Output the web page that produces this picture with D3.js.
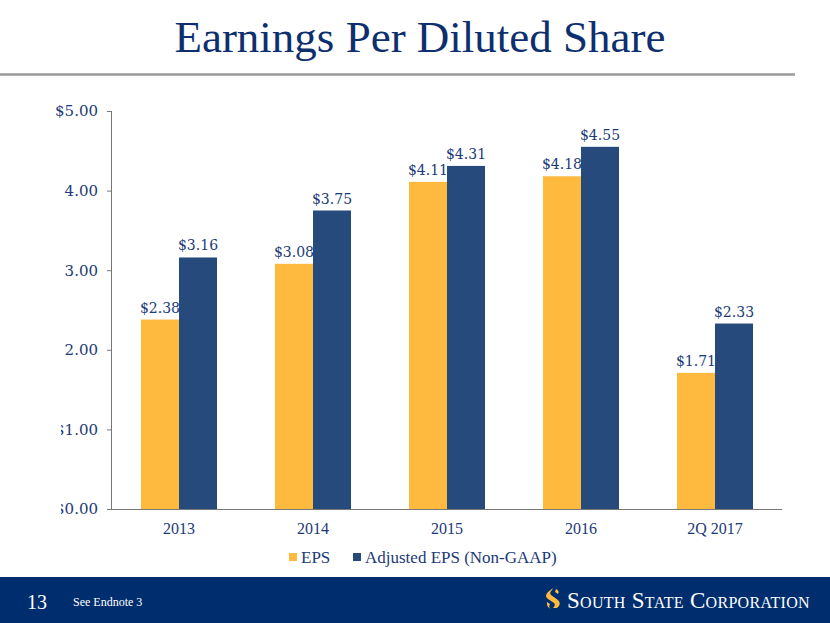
<!DOCTYPE html>
<html><head><meta charset="utf-8">
<script src="https://cdn.jsdelivr.net/npm/d3@7"></script>
<style>body{margin:0;background:#fff;}svg{display:block;}</style>
</head><body>
<script>
const categories = ["2013","2014","2015","2016","2Q 2017"];
const seriesNames = ["EPS","Adjusted EPS (Non-GAAP)"];
const eps = [2.38,3.08,4.11,4.18,1.71];
const adjEps = [3.16,3.75,4.31,4.55,2.33];
const tickValues = [0,1,2,3,4,5];
const tickLabels = ["$0.00","$1.00","2.00","3.00","4.00","$5.00"];
const colors = ["#FDBA3E","#264A7C"];
const navy = "#1B3A78";
const W = 830, H = 623;

const svg = d3.select("body").append("svg").attr("width",W).attr("height",H);
const serif = "'Liberation Serif','DejaVu Serif',serif";
const serif2 = "'DejaVu Serif','Liberation Serif',serif";

// title
svg.append("text").attr("x",420).attr("y",52).attr("text-anchor","middle")
  .attr("font-family",serif).attr("font-size",45).attr("fill","#0E2F6E")
  .text("Earnings Per Diluted Share");
svg.append("line").attr("x1",0).attr("x2",795).attr("y1",74.5).attr("y2",74.5)
  .attr("stroke","#9a9a9a").attr("stroke-width",2.5);

const x0 = d3.scaleBand().domain(categories).range([112,782]).padding(0);
const x1 = d3.scaleBand().domain(seriesNames).range([0,x0.bandwidth()]).paddingInner(0).paddingOuter(0.763);
const y = d3.scaleLinear().domain([0,5]).range([509,111]);

const data = categories.map((c,i)=>({cat:c, vals:[eps[i],adjEps[i]]}));

const g = svg.append("g");
const grp = g.selectAll("g.cat").data(data).join("g").attr("transform",d=>`translate(${x0(d.cat)},0)`);
grp.selectAll("rect").data(d=>d.vals.map((v,j)=>({v,s:seriesNames[j],j})))
  .join("rect").attr("x",d=>x1(d.s)).attr("width",x1.bandwidth())
  .attr("y",d=>y(d.v)).attr("height",d=>y(0)-y(d.v)).attr("fill",d=>colors[d.j]);
grp.selectAll("text").data(d=>d.vals.map((v,j)=>({v,s:seriesNames[j],j})))
  .join("text").attr("x",d=>x1(d.s)+x1.bandwidth()/2).attr("y",d=>y(d.v)-7)
  .attr("text-anchor","middle").attr("font-family",serif2).attr("font-size",14)
  .attr("fill",navy).text(d=>"$"+d.v.toFixed(2));

// y axis
const yAxis = d3.axisLeft(y).tickValues(tickValues).tickSize(5).tickPadding(9)
  .tickFormat((d,i)=>tickLabels[i]);
const ya = svg.append("g").attr("transform","translate(112,0)").call(yAxis);
ya.select(".domain").attr("stroke","#777").attr("d","M-0.5,111V509.5");
ya.selectAll(".tick line").attr("stroke","#777");
ya.selectAll(".tick text").attr("font-family",serif2).attr("font-size",15).attr("fill",navy);

// x axis
const xAxis = d3.axisBottom(x0).tickSize(0).tickPadding(14);
const xa = svg.append("g").attr("transform","translate(0,509)").call(xAxis);
xa.select(".domain").attr("stroke","#777").attr("d","M107,0.5H782");
xa.selectAll(".tick text").attr("font-family",serif).attr("font-size",16).attr("fill",navy);

// mask covering "$" of lower tick labels as in reference
svg.append("rect").attr("x",40).attr("y",415).attr("width",21).attr("height",110).attr("fill","#fff");

// legend
const leg = [{x:289,t:seriesNames[0],c:colors[0]},{x:353,t:seriesNames[1],c:colors[1]}];
const lg = svg.append("g").selectAll("g").data(leg).join("g");
lg.append("rect").attr("x",d=>d.x).attr("y",553).attr("width",8).attr("height",8).attr("fill",d=>d.c);
lg.append("text").attr("x",d=>d.x+12).attr("y",563).attr("font-family",serif).attr("font-size",17)
  .attr("fill",navy).text(d=>d.t);

// footer
svg.append("rect").attr("x",0).attr("y",577).attr("width",W).attr("height",H-577).attr("fill","#002D6D");
svg.append("text").attr("x",27).attr("y",609).attr("font-family",serif).attr("font-size",20).attr("fill","#fff").text("13");
svg.append("text").attr("x",73).attr("y",606).attr("font-family",serif).attr("font-size",12).attr("fill","#fff").text("See Endnote 3");
// logo icon
const logo = svg.append("g").attr("transform","translate(544,588)");
logo.append("path").attr("d","M9,0 L4,4 Q0,8 4,11 L10,15 Q12,17 9,20 L13,20 Q18,16 14,12 L7,7 Q5,5 8,2 Z").attr("fill","#FDBA3E");
logo.append("path").attr("d","M12,1 Q16,3 14,6 L11,4 Z M3,14 L6,16 Q4,19 7,21 Q2,19 3,14 Z").attr("fill","#FDBA3E");
svg.append("text").attr("x",567).attr("y",608).attr("font-family",serif).attr("font-size",23)
  .attr("font-variant","small-caps").attr("fill","#fff").attr("letter-spacing",0.3).text("South State Corporation");
</script>
</body></html>
